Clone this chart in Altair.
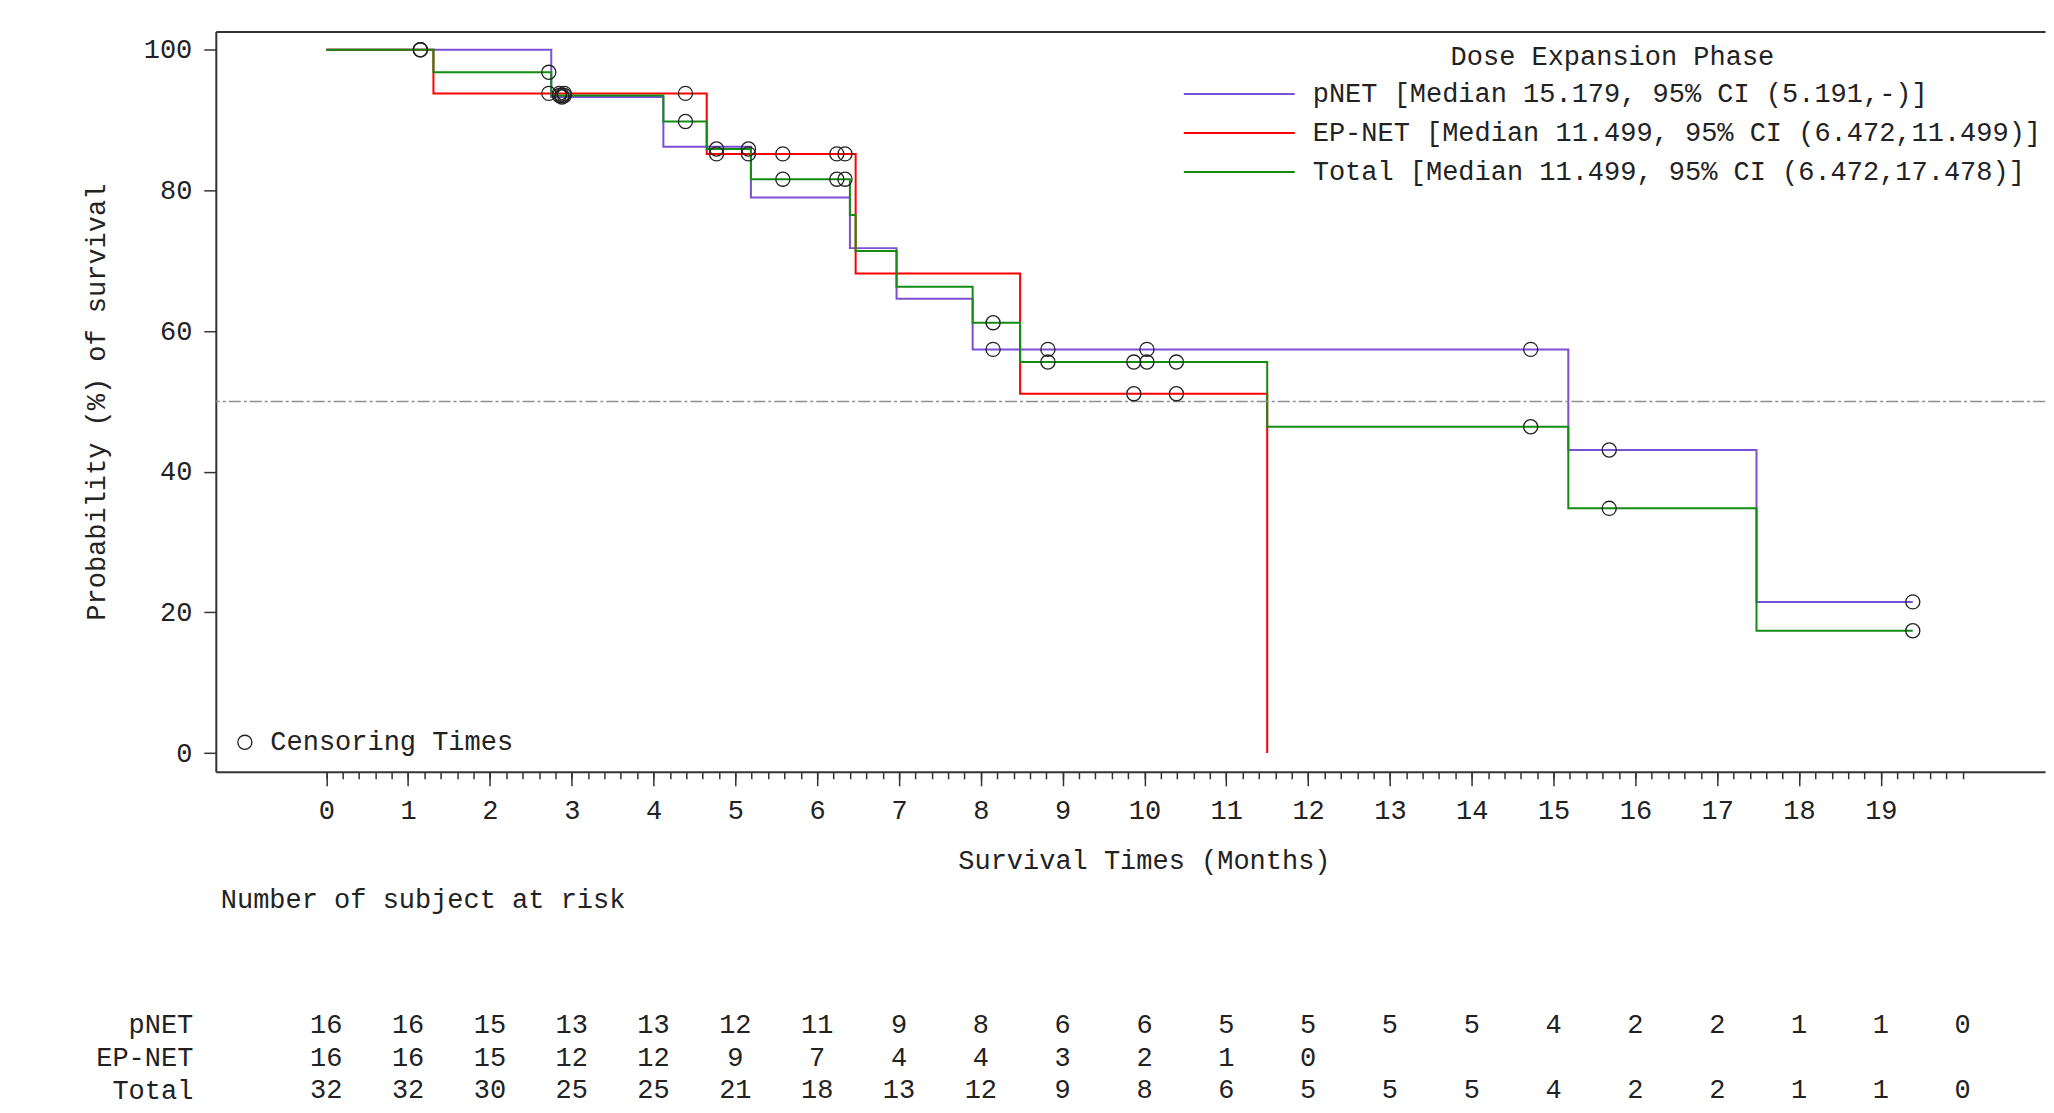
import altair as alt
import pandas as pd

FONT = "Liberation Mono"
FS = 27
TXT = "#222222"

# ---------------- data ----------------
SERIES = ["pNET", "EP-NET", "Total"]
SERIES_LABELS = [
    "pNET [Median 15.179, 95% CI (5.191,-)]",
    "EP-NET [Median 11.499, 95% CI (6.472,11.499)]",
    "Total [Median 11.499, 95% CI (6.472,17.478)]",
]
COLORS = ["#7B4FD6", "#FF0000", "#138C13"]

# step curves (time in months, survival %)
PNET_T = [0, 2.75, 4.12, 5.19, 6.40, 6.97, 7.90, 15.18, 17.48, 19.39]
PNET_S = [100, 93.3, 86.2, 79.0, 71.8, 64.6, 57.4, 43.1, 21.5, 21.5]
EPNET_T = [0, 1.31, 4.65, 6.47, 8.48, 11.50]
EPNET_S = [100, 93.8, 85.2, 68.2, 51.1, 0]
TOTAL_T = [0, 1.31, 2.75, 4.12, 4.65, 5.19, 6.40, 6.47, 6.97, 7.90, 8.48, 11.50, 15.18, 17.48, 19.39]
TOTAL_S = [100, 96.8, 93.5, 89.8, 85.9, 81.6, 76.5, 71.4, 66.3, 61.2, 55.6, 46.4, 34.8, 17.4, 17.4]

# censoring marks
PNET_CT = [1.15, 2.88, 8.15, 8.82, 10.03, 14.72, 15.68, 19.39]
PNET_CS = [100, 93.3, 57.4, 57.4, 57.4, 57.4, 43.1, 21.5]
EPNET_CT = [2.72, 2.85, 2.91, 4.39, 4.77, 5.16, 5.58, 6.24, 6.34, 9.87, 10.39]
EPNET_CS = [93.8, 93.8, 93.8, 93.8, 85.2, 85.2, 85.2, 85.2, 85.2, 51.1, 51.1]
TOTAL_CT = [1.15, 2.72, 2.85, 2.88, 2.91, 4.39, 4.77, 5.16, 5.58, 6.24, 6.34, 8.15, 8.82,
            9.87, 10.03, 10.39, 14.72, 15.68, 19.39]
TOTAL_CS = [100, 96.8, 93.5, 93.5, 93.5, 89.8, 85.9, 85.9, 81.6, 81.6, 81.6, 61.2, 55.6,
            55.6, 55.6, 55.6, 46.4, 34.8, 17.4]

# number at risk
RISK_TIMES = list(range(21))
RISK_PNET = [16, 16, 15, 13, 13, 12, 11, 9, 8, 6, 6, 5, 5, 5, 5, 4, 2, 2, 1, 1, 0]
RISK_EPNET = [16, 16, 15, 12, 12, 9, 7, 4, 4, 3, 2, 1, 0]
RISK_TOTAL = [32, 32, 30, 25, 25, 21, 18, 13, 12, 9, 8, 6, 5, 5, 5, 4, 2, 2, 1, 1, 0]

X_TICKS = list(range(20))
X_MINOR = [round(0.2 * i, 1) for i in range(101)]
Y_TICKS = [0, 20, 40, 60, 80, 100]
REF_LINE = [50]
CENSOR_NAME = "Censoring Times"

# ---------------- tables ----------------
step_rows, cens_rows, risk_rows = [], [], []
for lab, ts, ss in zip(SERIES_LABELS, [PNET_T, EPNET_T, TOTAL_T], [PNET_S, EPNET_S, TOTAL_S]):
    for i, (t, s) in enumerate(zip(ts, ss)):
        step_rows.append({"label": lab, "t": t, "s": s, "i": i})
for ts, ss in zip([PNET_CT, EPNET_CT, TOTAL_CT], [PNET_CS, EPNET_CS, TOTAL_CS]):
    for t, s in zip(ts, ss):
        cens_rows.append({"t": t, "s": s, "kind": CENSOR_NAME})
for name, vals in zip(SERIES, [RISK_PNET, RISK_EPNET, RISK_TOTAL]):
    for t, n in zip(RISK_TIMES, vals):
        risk_rows.append({"row": name, "t": t, "n": n})

steps = pd.DataFrame(step_rows)
cens = pd.DataFrame(cens_rows)
risk = pd.DataFrame(risk_rows)
ref = pd.DataFrame({"s": REF_LINE})

W, H = 1831, 741
xscale = alt.Scale(domain=[-1.35, 21.006], nice=False, zero=False)
yscale = alt.Scale(domain=[-2.66, 102.6], nice=False, zero=False)


def y_axis():
    return alt.Axis(
        values=Y_TICKS, orient="left", title="Probability (%) of survival", grid=False,
        domain=True, domainColor="#333333", domainWidth=2,
        ticks=True, tickSize=12, tickColor="#333333", tickWidth=1.5,
        labelPadding=12, labelFont=FONT, labelFontSize=FS, labelColor=TXT,
        labelFlush=False, labelOverlap=False,
        titleFont=FONT, titleFontSize=FS, titleFontWeight="normal", titleColor=TXT,
        titlePadding=33)


def y_enc():
    return alt.Y("s:Q", scale=yscale, axis=y_axis())


lines = alt.Chart(steps).mark_line(interpolate="step-after", strokeWidth=2).encode(
    x=alt.X("t:Q", scale=xscale, axis=alt.Axis(
        values=X_TICKS, orient="bottom", title="Survival Times (Months)", grid=False,
        domain=True, domainColor="#333333", domainWidth=2,
        ticks=True, tickSize=14, tickColor="#333333", tickWidth=1.5,
        labelPadding=12, labelFont=FONT, labelFontSize=FS, labelColor=TXT,
        labelFlush=False, labelOverlap=False,
        titleFont=FONT, titleFontSize=FS, titleFontWeight="normal", titleColor=TXT,
        titlePadding=24, titleX=929)),
    y=y_enc(),
    color=alt.Color("label:N", scale=alt.Scale(domain=SERIES_LABELS, range=COLORS),
                    legend=alt.Legend(
                        title="Dose Expansion Phase", orient="none", legendX=968, legendY=13,
                        titleAnchor="middle", titleFont=FONT, titleFontSize=FS,
                        titleFontWeight="normal", titleColor=TXT, titlePadding=9, titleLimit=2000,
                        symbolType="stroke", symbolSize=12321, symbolStrokeWidth=2,
                        clipHeight=27, rowPadding=11, labelOffset=17, labelLimit=2000,
                        labelFont=FONT, labelFontSize=FS, labelColor=TXT, padding=0)),
    order="i:Q",
)

censor = alt.Chart(cens).mark_point(filled=False, size=200, strokeWidth=1.3,
                                    color="#222222", opacity=1).encode(
    x=alt.X("t:Q", scale=xscale, axis=alt.Axis(
        values=X_MINOR, orient="bottom", title=None, grid=False, domain=False,
        labels=False, ticks=True, tickSize=7, tickColor="#333333", tickWidth=1.5)),
    y=y_enc(),
    shape=alt.Shape("kind:N", scale=alt.Scale(domain=[CENSOR_NAME], range=["circle"]),
                    legend=alt.Legend(
                        title=None, orient="none", legendX=15.6, legendY=698,
                        symbolSize=200, symbolStrokeWidth=1.3, symbolStrokeColor="#222222",
                        symbolFillColor="transparent", labelOffset=12, labelLimit=2000,
                        labelFont=FONT, labelFontSize=FS, labelColor=TXT, padding=0)),
)

frame_top = alt.Chart(steps).mark_point(opacity=0).encode(
    x=alt.X("t:Q", scale=xscale, axis=alt.Axis(
        orient="top", title=None, grid=False, domain=True, domainColor="#333333",
        domainWidth=2, ticks=False, labels=False)),
    y=y_enc(),
)

refline = alt.Chart(ref).mark_rule(color="#8f8f8f", strokeWidth=1.5,
                                   strokeDash=[12, 3, 3, 3]).encode(
    y=y_enc(),
)

top = alt.layer(lines, refline, censor, frame_top).resolve_axis(x="independent").properties(
    width=W, height=H)

bottom = alt.Chart(risk).mark_text(font=FONT, fontSize=FS, color=TXT, baseline="middle").encode(
    x=alt.X("t:Q", scale=xscale, axis=None),
    y=alt.Y("row:N", sort=SERIES, scale=alt.Scale(type="point", padding=0.219),
            axis=alt.Axis(title=None, domain=False, ticks=False, grid=False,
                          labelPadding=23, labelFont=FONT, labelFontSize=FS,
                          labelColor=TXT)),
    text="n:Q",
).properties(
    width=W, height=80,
    title=alt.TitleParams("Number of subject at risk", anchor="start", frame="group",
                          dx=5, offset=97, font=FONT, fontSize=FS, fontWeight="normal",
                          color=TXT),
)

chart = alt.vconcat(top, bottom, spacing=12).properties(
    padding={"left": 74, "top": 23, "right": 0, "bottom": 0}
).configure(font=FONT).configure_view(strokeWidth=0, stroke="transparent")

chart.save("out.html", embed_options={"renderer": "svg", "actions": False})
